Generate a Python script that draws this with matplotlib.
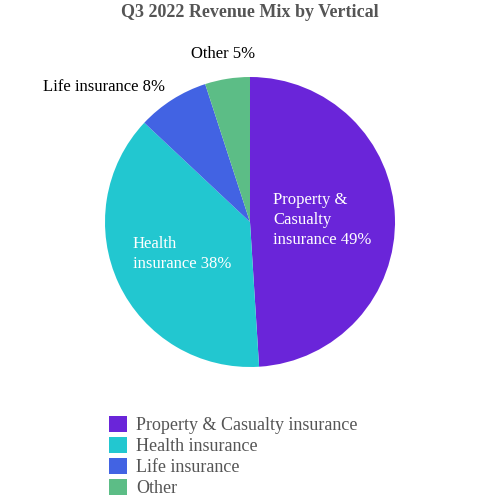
import matplotlib
matplotlib.use("Agg")
import matplotlib.pyplot as plt
import numpy as np

categories = ["Property & Casualty insurance", "Health insurance", "Life insurance", "Other"]
labels = ["Property &\nCasualty\ninsurance 49%", "Health\ninsurance 38%", "Life insurance 8%", "Other 5%"]
values = [49, 38, 8, 5]
colors = ["#6a25d9", "#22c7d0", "#4263e3", "#5cbd86"]

plt.rcParams['font.family'] = ['Liberation Serif', 'DejaVu Serif']
fig = plt.figure(figsize=(5, 5), dpi=100)
ax = fig.add_axes([105/500, 133/500, 290/500, 290/500])
wedges, _ = ax.pie(values, colors=colors, startangle=90, counterclock=False, radius=1)
ax.set_xlim(-1, 1); ax.set_ylim(-1, 1); ax.set_aspect('equal')

dists = [0.5, 0.52, 1.1, 1.17]
inside = [True, True, False, False]
has = ['center', 'center', 'right', 'center']
for w, lab, d, ins, ha in zip(wedges, labels, dists, inside, has):
    ang = np.deg2rad((w.theta1 + w.theta2) / 2)
    x, y = d * np.cos(ang), d * np.sin(ang)
    ax.text(x, y, lab, ha=ha, va='center', fontsize=12, multialignment='left',
            color='white' if ins else 'black', linespacing=1.35)

fig.text(0.5, 0.975, "Q3 2022 Revenue Mix by Vertical", ha='center', va='center',
         fontsize=13, fontweight='bold', color='#555555')
leg = fig.legend(wedges, categories, loc='upper left', bbox_to_anchor=(0.2, 0.186),
                 frameon=False, fontsize=13, handlelength=1.0, handleheight=1.0,
                 handletextpad=0.5, labelspacing=0.15, borderpad=0)
for t in leg.get_texts():
    t.set_color('#555555')
fig.savefig("out.png", dpi=100)
